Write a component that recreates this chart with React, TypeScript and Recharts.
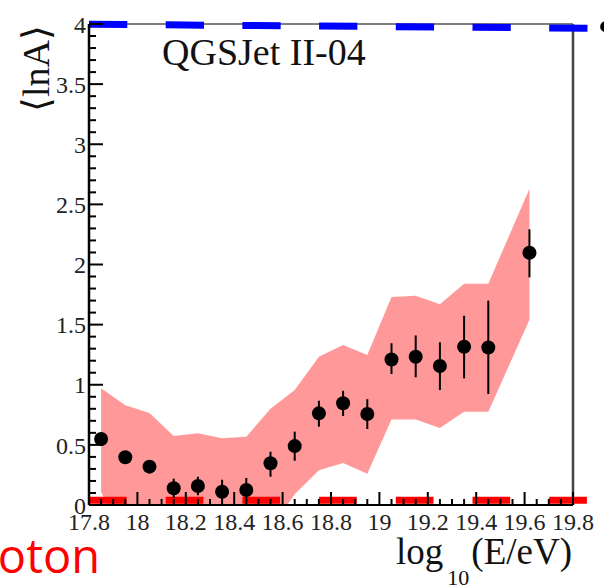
import React from 'react';
import {
  ComposedChart,
  XAxis,
  YAxis,
  Area,
  Scatter,
  ErrorBar,
  ReferenceLine,
  ReferenceDot,
  Customized,
} from 'recharts';

// ---- data ----
const energyBins = [17.85, 17.95, 18.05, 18.15, 18.25, 18.35, 18.45, 18.55, 18.65, 18.75, 18.85, 18.95, 19.05, 19.15, 19.25, 19.35, 19.45, 19.62];
const meanLnA = [0.549, 0.397, 0.319, 0.139, 0.158, 0.11, 0.125, 0.347, 0.49, 0.762, 0.846, 0.757, 1.21, 1.233, 1.156, 1.316, 1.31, 2.098];
const statErrUp = [0.03, 0.03, 0.03, 0.08, 0.077, 0.1, 0.1, 0.096, 0.12, 0.105, 0.104, 0.123, 0.135, 0.177, 0.197, 0.258, 0.39, 0.195];
const statErrDown = [0.03, 0.03, 0.03, 0.08, 0.077, 0.07, 0.1, 0.112, 0.122, 0.111, 0.106, 0.125, 0.12, 0.171, 0.2, 0.263, 0.387, 0.205];
const systLow = [0.11, -0.35, -0.4, -0.45, -0.45, -0.5, -0.45, -0.2, 0.09, 0.29, 0.35, 0.26, 0.71, 0.71, 0.64, 0.776, 0.776, 1.54];
const systHigh = [0.97, 0.83, 0.765, 0.574, 0.596, 0.555, 0.568, 0.8, 0.956, 1.233, 1.33, 1.247, 1.73, 1.74, 1.67, 1.84, 1.84, 2.63];

const xTickLabels = [17.8, 18, 18.2, 18.4, 18.6, 18.8, 19, 19.2, 19.4, 19.6, 19.8];
const xAllTicks = Array.from({ length: 41 }, (_, i) => Math.round((17.8 + i * 0.05) * 100) / 100);
const yTickLabels = [0, 0.5, 1, 1.5, 2, 2.5, 3, 3.5, 4];
const yAllTicks = Array.from({ length: 41 }, (_, i) => Math.round(i * 0.1 * 10) / 10);

const protonLine = [{ x: 17.8, y: 0.04 }, { x: 19.858, y: 0.04 }];
const ironLine = [{ x: 17.8, y: 3.998 }, { x: 19.87, y: 3.965 }];
const legendDot = { x: 19.935, y: 3.978 };

const data = energyBins.map((x, i) => ({
  x,
  lnA: meanLnA[i],
  err: [statErrDown[i], statErrUp[i]],
  band: [systLow[i], systHigh[i]],
}));

const X_DOMAIN: [number, number] = [17.8, 19.8];
const Y_DOMAIN: [number, number] = [0, 4];
const SERIF = 'Liberation Serif';

const isIn = (arr: number[], v: number) => arr.some((a) => Math.abs(a - v) < 1e-6);

const YTick = (p: any) => {
  const v = p.payload.value;
  const major = isIn(yTickLabels, v);
  return (
    <g>
      <line x1={p.x} x2={p.x + (major ? 14 : 7)} y1={p.y} y2={p.y} stroke="#000" strokeWidth={2} />
      {major && (
        <text x={p.x - 3} y={p.y} dy="0.36em" textAnchor="end" fontFamily={SERIF} style={{ fontFamily: SERIF }} fontSize={24} fill="#222">
          {String(v)}
        </text>
      )}
    </g>
  );
};

const XTick = (p: any) => {
  const v = p.payload.value;
  const major = isIn(xTickLabels, v);
  return (
    <g>
      <line x1={p.x} x2={p.x} y1={p.y} y2={p.y - (major ? 13 : 6)} stroke="#000" strokeWidth={2} />
      {major && (
        <text x={p.x} y={p.y + 8} dy="0.71em" textAnchor="middle" fontFamily={SERIF} style={{ fontFamily: SERIF }} fontSize={24} fill="#222">
          {String(v)}
        </text>
      )}
    </g>
  );
};

const Dot = (p: any) => <circle cx={p.cx} cy={p.cy} r={7} fill="#000" />;

const Texts = () => (
  <g>
    <text x={162} y={65} fontFamily={SERIF} style={{ fontFamily: SERIF }} fontSize={38} fill="#111">QGSJet II-04</text>
    <text transform="translate(49,25) rotate(-90)" textAnchor="end" fontFamily={SERIF} style={{ fontFamily: SERIF }} fontSize={38} fill="#111">⟨lnA⟩</text>
    <text x={572} y={564} textAnchor="end" fontFamily={SERIF} style={{ fontFamily: SERIF }} fontSize={37} fill="#111">
      log<tspan fontSize={22} dx={4} dy={21}>10</tspan><tspan dx={2} dy={-21}>(E/eV)</tspan>
    </text>
    <text x={100} y={573} textAnchor="end" fontFamily="Open Sans" style={{ fontFamily: 'Open Sans' }} fontSize={47} fill="#ff0000">Proton</text>
  </g>
);

export default function App() {
  return (
    <div style={{ position: 'absolute', left: 0, top: 0 }}>
      <ComposedChart width={604} height={587} data={data} margin={{ top: 24, right: 31, left: 29, bottom: 52 }}>
        <XAxis
          dataKey="x"
          type="number"
          domain={X_DOMAIN}
          allowDataOverflow
          ticks={xAllTicks}
          interval={0}
          tickLine={false}
          tickSize={0}
          tickMargin={0}
          height={30}
          axisLine={{ stroke: '#000', strokeWidth: 2 }}
          tick={<XTick />}
        />
        <YAxis
          type="number"
          domain={Y_DOMAIN}
          allowDataOverflow
          ticks={yAllTicks}
          interval={0}
          tickLine={false}
          tickSize={0}
          tickMargin={0}
          width={60}
          axisLine={{ stroke: '#000', strokeWidth: 2.5 }}
          tick={<YTick />}
        />

        <Area
          dataKey="band"
          type="linear"
          stroke="none"
          fill="#ff9999"
          fillOpacity={1}
          dot={false}
          activeDot={false}
          isAnimationActive={false}
        />
        <ReferenceLine y={4} stroke="#555" strokeWidth={1.5} ifOverflow="visible" />
        <ReferenceLine x={19.8} stroke="#444" strokeWidth={2.5} ifOverflow="visible" />
        <ReferenceLine segment={protonLine} stroke="#ff0000" strokeWidth={7} strokeDasharray="37.7 39" ifOverflow="visible" />
        <ReferenceLine segment={ironLine} stroke="#0000ff" strokeWidth={7} strokeDasharray="38.3 38.4" ifOverflow="visible" />
        <ReferenceDot x={legendDot.x} y={legendDot.y} r={5.5} fill="#000" stroke="none" ifOverflow="visible" />
        <Scatter dataKey="lnA" shape={Dot} isAnimationActive={false}>
          <ErrorBar dataKey="err" direction="y" width={0} stroke="#000" strokeWidth={2} isAnimationActive={false} />
        </Scatter>
        <Customized component={Texts} />
      </ComposedChart>
    </div>
  );
}
